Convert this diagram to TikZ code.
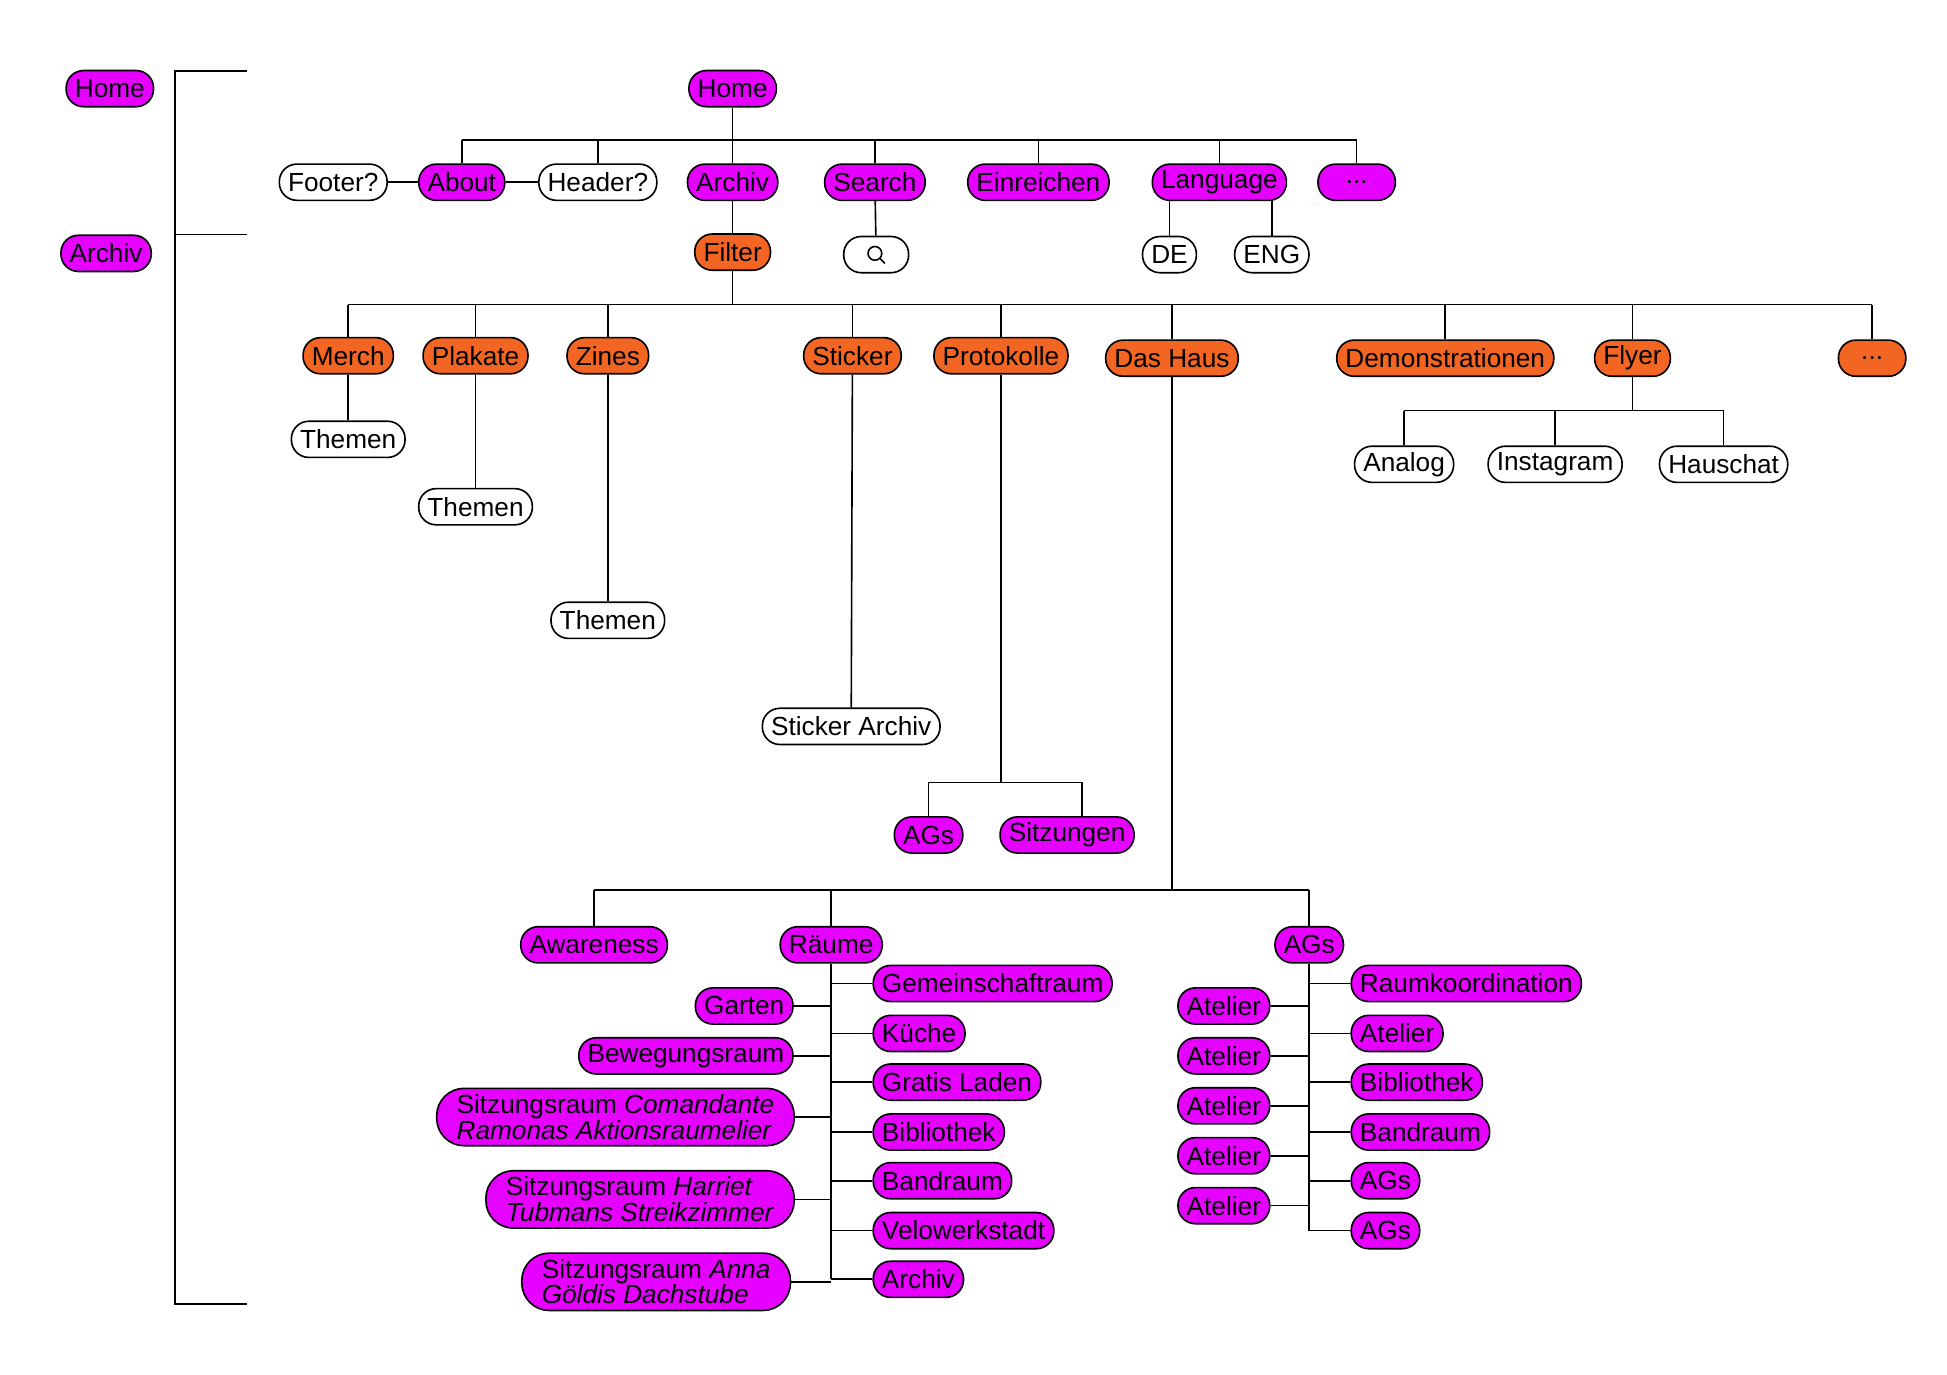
\documentclass[tikz,border=0pt]{standalone}
\usepackage{fontspec}
\setmainfont{Liberation Sans}
\usetikzlibrary{calc}
\definecolor{mag}{HTML}{E600FF}
\definecolor{ora}{HTML}{F26522}
\begin{document}
\begin{tikzpicture}[x=1pt,y=-1pt,line width=1.3pt,
 box/.style={draw=black,rounded corners=14pt,minimum height=29pt,inner xsep=7pt,inner ysep=0pt,font=\fontsize{21}{21}\selectfont},
 m/.style={box,fill=mag}, o/.style={box,fill=ora}, w/.style={box,fill=white},
 two/.style={m,rounded corners=22pt,align=left,font=\fontsize{21}{19}\selectfont,minimum height=46pt,inner xsep=16pt}]
\useasboundingbox (0,0) rectangle (1560,1101);
% left
\node[m] (lhome) at (88,71) {Home};
\node[m] (larch) at (85,203) {Archiv};
\coordinate (bt) at (198,57); \coordinate (bm) at (198,188); \coordinate (bb) at (198,1045);
\draw (bt) -| (140,1045) -- (bb); \draw (140,188) -- (bm);
% level 1
\node[m] (home) at (587,71) {Home};
\node[w] (footer) at (267,146) {Footer?};
\node[m] (about) at (370,146) {About};
\node[w] (header) at (479,146) {Header?};
\node[m] (archiv) at (587,146) {Archiv};
\node[m] (search) at (701,146) {Search};
\node[m] (einr) at (832,146) {Einreichen};
\node[m] (lang) at (977,146) {Language};
\node[m,minimum width=62pt] (more1) at (1087,146) {...};
\coordinate (b1) at (0,112);
\draw (home.south) -- (home.south|-b1);
\draw (about.north|-b1) -- (more1.north|-b1);
\foreach \n in {about,header,archiv,search,einr,lang,more1} \draw (\n.north) -- (\n.north|-b1);
\draw (footer) -- (about); \draw (about) -- (header);
\node[o] (filter) at (587,202) {Filter};
\draw (archiv) -- (filter);
\node[w,minimum width=52pt] (sicon) at (702,204) {};
\draw ($(sicon.center)+(-1,-1)$) circle (5.5pt); \draw ($(sicon.center)+(3,3)$) -- ++(4,4);
\draw (search) -- (sicon);
\node[w] (de) at (937,204) {DE};
\node[w] (eng) at (1019,204) {ENG};
\draw (de.north) -- (de.north|-lang.south); \draw (eng.north) -- (eng.north|-lang.south);
% filter level
\node[o] (merch) at (279,285) {Merch};
\node[o] (plak) at (381,285) {Plakate};
\node[o] (zines) at (487,285) {Zines};
\node[o] (stick) at (683,285) {Sticker};
\node[o] (prot) at (802,285) {Protokolle};
\node[o] (haus) at (939,287) {Das Haus};
\node[o] (demo) at (1158,287) {Demonstrationen};
\node[o] (flyer) at (1308,287) {Flyer};
\node[o,minimum width=54pt] (more2) at (1500,287) {...};
\coordinate (b2) at (0,244);
\draw (filter.south) -- (filter.south|-b2);
\draw (merch.north|-b2) -- (more2.north|-b2);
\foreach \n in {merch,plak,zines,stick,prot,haus,demo,flyer,more2} \draw (\n.north) -- (\n.north|-b2);
\node[w] (t1) at (279,352) {Themen};
\node[w] (t2) at (381,406) {Themen};
\node[w] (t3) at (487,497) {Themen};
\node[w] (sarch) at (682,582) {Sticker Archiv};
\draw (merch) -- (t1); \draw (plak) -- (t2); \draw (zines) -- (t3); \draw (stick) -- (sarch);
\node[m] (pags) at (744,669) {AGs};
\node[m] (psitz) at (855,669) {Sitzungen};
\coordinate (b3) at (0,627);
\draw (prot.south) -- (prot.south|-b3);
\draw (pags.north) |- (867,627) -- (867,654);
\node[w] (analog) at (1125,372) {Analog};
\node[w] (insta) at (1246,372) {Instagram};
\node[w] (hausch) at (1381,372) {Hauschat};
\coordinate (b4) at (0,329);
\draw (flyer.south) -- (flyer.south|-b4);
\draw (analog.north|-b4) -- (hausch.north|-b4);
\foreach \n in {analog,insta,hausch} \draw (\n.north) -- (\n.north|-b4);
% Das Haus
\node[m] (aware) at (476,757) {Awareness};
\node[m] (raeume) at (666,757) {Räume};
\node[m] (hags) at (1049,757) {AGs};
\coordinate (b5) at (0,713);
\draw (haus.south) -- (haus.south|-b5);
\draw (aware.north|-b5) -- (hags.north|-b5);
\foreach \n in {aware,raeume,hags} \draw (\n.north) -- (\n.north|-b5);
% Räume
\draw (raeume.south) -- (666,1025);
\foreach \t/\y [count=\i] in {Gemeinschaftraum/788,Küche/828,Gratis Laden/867,Bibliothek/907,Bandraum/946,Velowerkstadt/986,Archiv/1025}{
 \node[m,anchor=west] (r\i) at (699,\y) {\t};
 \draw (r\i.west) -- (r\i.west-|raeume);}
\node[m,anchor=east] (l1) at (636,806) {Garten};
\node[m,anchor=east] (l2) at (636,846) {Bewegungsraum};
\node[two,anchor=east] (l3) at (637,895) {Sitzungsraum \textit{Comandante}\\\textit{Ramonas Aktionsraumelier}};
\node[two,anchor=east] (l4) at (637,961) {Sitzungsraum \textit{Harriet}\\\textit{Tubmans Streikzimmer}};
\node[two,anchor=east] (l5) at (634,1027) {Sitzungsraum \textit{Anna}\\\textit{Göldis Dachstube}};
\foreach \i in {1,...,5} \draw (l\i.east) -- (l\i.east-|raeume);
% AGs
\draw (hags.south) -- (1049,986);
\foreach \y [count=\i] in {806,846,886,926,966}{
 \node[m,anchor=east] (a\i) at (1018,\y) {Atelier};
 \draw (a\i.east) -- (a\i.east-|hags);}
\foreach \t/\y [count=\i] in {Raumkoordination/788,Atelier/828,Bibliothek/867,Bandraum/907,AGs/946,AGs/986}{
 \node[m,anchor=west] (g\i) at (1082,\y) {\t};
 \draw (g\i.west) -- (g\i.west-|hags);}
\end{tikzpicture}
\end{document}
